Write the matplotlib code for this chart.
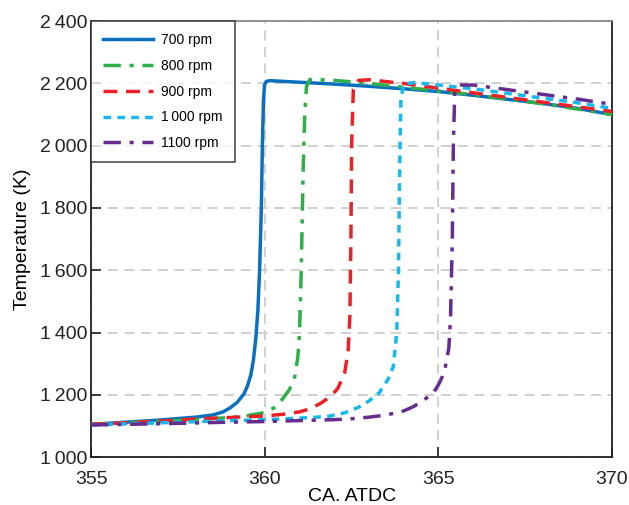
import matplotlib
matplotlib.use("Agg")
import matplotlib.pyplot as plt
from matplotlib.ticker import FixedLocator, FixedFormatter

plt.rcParams['font.family'] = ['Liberation Sans', 'DejaVu Sans']

# ---- data ----
ca_700 = [355, 356, 357, 358, 358.5, 358.8, 359.0, 359.2, 359.4, 359.5, 359.6, 359.67, 359.74, 359.8,
          359.85, 359.9, 359.93, 359.96, 359.99, 360.05, 360.15, 361, 362, 363, 364, 365, 366, 367,
          368, 369, 370]
t_700 = [1105, 1112, 1119, 1128, 1135, 1145, 1158, 1175, 1203, 1228, 1265, 1310, 1380, 1470,
         1600, 1800, 2000, 2140, 2195, 2207, 2209, 2204, 2198, 2191, 2183, 2174, 2162, 2149,
         2136, 2120, 2100]

ca_800 = [355, 357, 358, 359, 359.5, 360, 360.3, 360.5, 360.7, 360.85, 360.95, 361.0, 361.05, 361.1,
          361.15, 361.2, 361.3, 362, 363, 364, 365, 366, 367, 368, 369, 370]
t_800 = [1105, 1115, 1120, 1127, 1133, 1143, 1160, 1185, 1215, 1250, 1320, 1400, 1600, 1900,
         2100, 2190, 2213, 2210, 2200, 2188, 2176, 2164, 2150, 2135, 2118, 2100]

ca_900 = [355, 357, 358, 359, 360, 360.5, 361, 361.3, 361.6, 361.9, 362.1, 362.3, 362.4, 362.45,
          362.48, 362.5, 362.55, 362.7, 363, 364, 365, 366, 367, 368, 369, 370]
t_900 = [1105, 1115, 1122, 1127, 1132, 1137, 1145, 1155, 1172, 1195, 1220, 1270, 1340, 1450,
         1700, 2000, 2180, 2210, 2212, 2200, 2185, 2170, 2155, 2140, 2125, 2110]

ca_1000 = [355, 357, 359, 360, 361, 361.8, 362.3, 362.7, 363.0, 363.3, 363.55, 363.7, 363.8, 363.85,
           363.88, 363.92, 364.0, 364.3, 365, 366, 367, 368, 369, 370]
t_1000 = [1103, 1110, 1117, 1120, 1125, 1130, 1142, 1160, 1180, 1207, 1250, 1290, 1400, 1600,
          1900, 2150, 2198, 2203, 2195, 2183, 2168, 2153, 2138, 2120]

ca_1100 = [355, 357, 359, 360, 361, 362, 362.5, 363, 363.5, 364, 364.3, 364.6, 364.85, 365.0, 365.1,
           365.2, 365.3, 365.35, 365.4, 365.43, 365.47, 365.6, 366, 367, 368, 369, 370]
t_1100 = [1103, 1107, 1112, 1114, 1117, 1120, 1123, 1128, 1135, 1148, 1163, 1185, 1205, 1232, 1255,
          1290, 1350, 1450, 1700, 2000, 2170, 2195, 2195, 2180, 2165, 2150, 2133]

labels = ['700 rpm', '800 rpm', '900 rpm', '1\u2009000 rpm', '1100 rpm']
x_ticks = [355, 360, 365, 370]
y_ticks = [1000, 1200, 1400, 1600, 1800, 2000, 2200, 2400]
y_tick_labels = ['1\u2009000', '1\u2009200', '1\u2009400', '1\u2009600', '1\u2009800',
                 '2\u2009000', '2\u2009200', '2\u2009400']

# ---- figure ----
fig = plt.figure(figsize=(6.29, 5.05), dpi=100)
ax = fig.add_axes([0.145, 0.095, 0.828, 0.863])

lw = 2.5
ax.plot(ca_700, t_700, color='#0A6FBF', lw=lw, ls='-', label=labels[0], zorder=3)
ax.plot(ca_800, t_800, color='#2EAF4A', lw=lw, ls=(0, (5, 2.5, 1.2, 2.5)), label=labels[1], zorder=4)
ax.plot(ca_900, t_900, color='#EC2027', lw=lw, ls=(0, (4, 2.5)), label=labels[2], zorder=5)
ax.plot(ca_1000, t_1000, color='#16B9EC', lw=lw, ls=(0, (2.2, 1.8)), label=labels[3], zorder=6)
ax.plot(ca_1100, t_1100, color='#652D90', lw=lw, ls=(0, (5, 2.5, 1.2, 2.5)), label=labels[4], zorder=7)

ax.set_xlim(355, 370)
ax.set_ylim(1000, 2400)
ax.xaxis.set_major_locator(FixedLocator(x_ticks))
ax.set_xticklabels([str(v) for v in x_ticks])
ax.yaxis.set_major_locator(FixedLocator(y_ticks))
ax.yaxis.set_major_formatter(FixedFormatter(y_tick_labels))
ax.tick_params(direction='in', length=7, width=1.2, labelsize=14, pad=3, colors='#222222')
ax.tick_params(axis='x', pad=10)

ax.grid(True, color='#c8c8c8', ls=(0, (6, 4)), lw=1.2)
ax.set_axisbelow(True)

for s in ['left', 'bottom', 'right']:
    ax.spines[s].set_color('#222222')
    ax.spines[s].set_linewidth(1.3)
ax.spines['top'].set_color('#888888')
ax.spines['top'].set_linewidth(1.3)

ax.set_xlabel('CA. ATDC', fontsize=14, labelpad=0)
ax.set_ylabel('Temperature (K)', fontsize=14, labelpad=6)

leg = ax.legend(loc='upper left', fontsize=10, frameon=True, fancybox=False,
                edgecolor='#222222', handlelength=3.6, handletextpad=0.6,
                borderaxespad=0, labelspacing=0.85, borderpad=0.85)
leg.get_frame().set_linewidth(1.2)

fig.savefig('out.png', dpi=100)
